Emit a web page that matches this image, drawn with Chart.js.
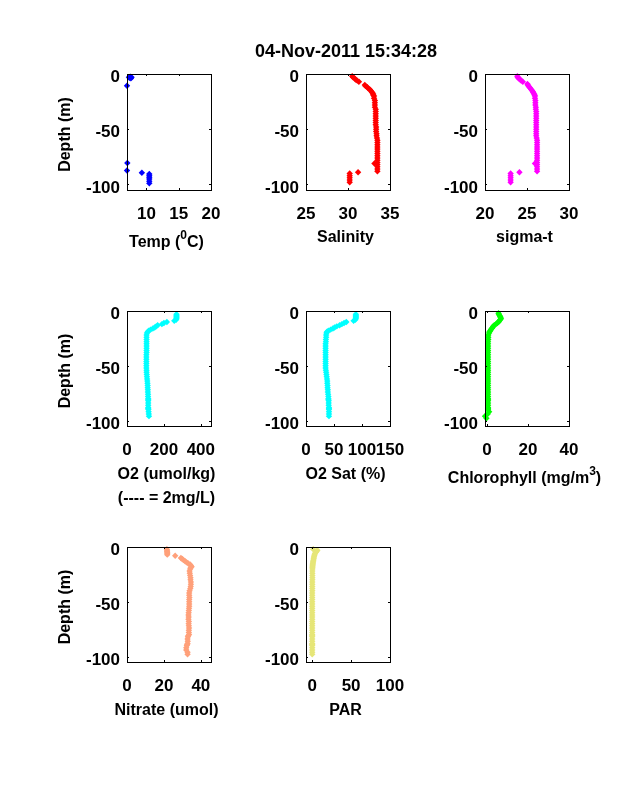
<!DOCTYPE html>
<html>
<head>
<meta charset="utf-8">
<title>CTD profile</title>
<script src="https://cdn.jsdelivr.net/npm/chart.js@4"></script>
<style>
  html, body { margin: 0; padding: 0; background: #fff; overflow: hidden; }
  canvas { position: absolute; left: 0; top: 0; }
</style>
</head>
<body>
<script>
const chartTitle = '04-Nov-2011 15:34:28';

// depth bins shared by the profiles (m)
const depth = [-2,-3,-4,-5,-6,-7,-8,-9,-10,-11,-12,-13,-14,-15,-16,-17,-18,-19,-20,
  -22,-24,-26,-28,-30,-32,-34,-36,-38,-40,-42,-44,-46,-48,-50,-52,-54,-56,-58,-60,
  -62,-64,-66,-68,-70,-72,-74,-76,-78,-80,-81,-82,-84,-86,-88,-89,-90,-92,-94,-96,-98];

// most temperatures fall left of the axis, only these show
const tempDepth = [-2.5,-3,-3.5,-4,-3,-10.6,-80.6,-87.3,-89.4,-90.5,-92,-93.5,-95,-97,-99];
const temp = [7.5,7.7,7.4,7.6,7.3,7.0,7.05,7.0,9.3,10.45,10.45,10.45,10.45,10.45,10.45];

const salinity = [30.5,30.6,30.8,30.9,31.1,31.3,null,null,32.0,32.1,32.3,32.4,32.6,32.7,32.8,32.9,33.0,33.0,33.1,
  33.1,33.2,33.2,33.2,33.2,33.3,33.3,33.3,33.3,33.3,33.3,33.3,33.3,33.35,33.35,33.35,33.4,33.4,33.45,33.5,
  33.5,33.5,33.5,33.5,33.5,33.5,33.5,33.5,33.5,33.5,33.15,33.5,33.5,33.5,33.5,31.2,30.2,30.2,30.2,30.2,30.2];

const sigmaT = [23.85,23.9,24.0,24.2,24.3,24.5,null,25.05,25.1,25.2,25.3,25.4,25.5,25.6,25.7,25.75,25.85,25.9,25.95,
  25.95,26,26,26,26.05,26.05,26.1,26.1,26.1,26.1,26.1,26.1,26.1,26.1,26.1,26.1,26.1,26.1,26.15,26.2,
  26.2,26.2,26.2,26.2,26.2,26.2,26.2,26.2,26.2,26.2,25.95,26.2,26.2,26.2,26.2,24.1,23.05,23.05,23.05,23.05,23.05];

const oxygen = [null,268,268,268,268,268,266,256,216,200,189,166,158,150,140,128,118,113,108,
  106,106,106,106,106,106,106,106,106,105,105,105,105,105,105,105,106,106,107,108,
  109,110,111,112,112,113,113,114,114,115,115,115,115,115,115,115,116,117,118,119];

const oxygenSat = [null,89,89,89,89,89,88,85,72,68,64,60,55,51,48,44,40,37.5,36.5,
  36,36,35.5,35.5,35,35,35,35,35,35,35,35,35,35,35,35,35.5,36,36.5,37,
  37.5,38,38,38.5,38.5,39,39,39.5,40,40,40,40.5,40.5,40.5,41,41,41,41,41,41];

const chlorophyll = [5.6,5.8,6.1,6.4,6.6,6.8,6.4,6,5.6,5,4.3,3.5,3,2.7,2.3,1.9,1.6,1.2,1,
  0.65,0.6,0.6,0.5,0.5,0.5,0.5,0.5,0.5,0.5,0.5,0.5,0.5,0.5,0.5,0.5,0.5,0.5,0.5,0.5,
  0.5,0.5,0.5,0.5,0.5,0.5,0.5,0.5,0.5,0.5,0.5,0.5,0.5,0.5,0.5,0.5,0.5,1,0.3,-1,-0.3];

const nitrate = [21.6,21.7,21.7,21.8,21.8,21.8,26.1,null,29.2,30,30.6,31.5,32.3,33.2,34.2,34.6,35,34.5,34.2,
  33.9,34,34.2,34.4,34.4,34.6,34.6,34.5,34.3,33.9,33.7,33.7,33.8,33.7,33.7,33.7,33.7,33.6,33.5,33.4,
  33.3,33.4,33.3,33.5,33.4,33.5,33.6,33.5,33.5,33.6,33.2,33,32.8,32.9,32.8,32.6,32.4,32.1,32.1,32.8,32.8];

const par = [1.3,6.6,5.5,4.5,3.5,3,2.7,2.3,2,1.8,1.5,1.2,1,0.8,0.6,0.5,0.4,0.3,0.3,
  0.2,0.2,0.2,0.2,0.2,0.1,0.1,0.1,0.1,0.1,0,0,0,0,0,0,0,0,0,0,
  0,0,0,0,0,0,0,0,0,0,0,0,0,0,0,0,0,0,0,0,0];

const depthTicks = [0, -50, -100];

// plot boxes, pixels on the page
const colLeft = [127, 306, 485];
const colRight = [211, 390, 569];
const rowTop = [74, 311, 547];
const rowBottom = [190, 426, 662];

const LABEL_FONT = 'bold 16px "Liberation Sans"';
const SUP_FONT = 'bold 12px "Liberation Sans"';

// text between ^ marks is raised
const panels = [
  { col: 0, row: 0, xs: temp, ys: tempDepth, color: '#0000ff', min: 7, max: 20, ticks: [10, 15, 20], label: ['Temp (^0^C)'], labelY: 242.5 },
  { col: 1, row: 0, xs: salinity, ys: depth, color: '#ff0000', min: 25, max: 35, ticks: [25, 30, 35], label: ['Salinity'], labelY: 238 },
  { col: 2, row: 0, xs: sigmaT, ys: depth, color: '#ff00ff', min: 20, max: 30, ticks: [20, 25, 30], label: ['sigma-t'], labelY: 238 },
  { col: 0, row: 1, xs: oxygen, ys: depth, color: '#00ffff', min: 0, max: 455, ticks: [0, 200, 400], label: ['O2 (umol/kg)', '(---- = 2mg/L)'], labelY: 475 },
  { col: 1, row: 1, xs: oxygenSat, ys: depth, color: '#00ffff', min: 0, max: 150, ticks: [0, 50, 100, 150], label: ['O2 Sat (%)'], labelY: 475 },
  { col: 2, row: 1, xs: chlorophyll, ys: depth, color: '#00ff00', min: -1, max: 40, ticks: [0, 20, 40], label: ['Chlorophyll (mg/m^3^)'], labelY: 479 },
  { col: 0, row: 2, xs: nitrate, ys: depth, color: '#ffa07a', min: 0, max: 45.5, ticks: [0, 20, 40], label: ['Nitrate (umol)'], labelY: 711 },
  { col: 1, row: 2, xs: par, ys: depth, color: '#e6e678', min: -8, max: 100, ticks: [0, 50, 100], label: ['PAR'], labelY: 711 }
];

// draw a line of text centred on x, with ^raised^ parts
function drawLabel(ctx, text, x, y) {
  const parts = text.split('^');
  let width = 0;
  parts.forEach((part, i) => {
    ctx.font = i % 2 ? SUP_FONT : LABEL_FONT;
    width += ctx.measureText(part).width;
  });
  let pos = x - width / 2;
  ctx.textAlign = 'left';
  ctx.textBaseline = 'middle';
  parts.forEach((part, i) => {
    ctx.font = i % 2 ? SUP_FONT : LABEL_FONT;
    ctx.fillText(part, pos, i % 2 ? y - 7 : y);
    pos += ctx.measureText(part).width;
  });
}

const panelFurniture = {
  id: 'panelFurniture',
  afterDatasetsDraw(chart, args, opts) {
    const ctx = chart.ctx;
    const { left, right, top, bottom } = chart.chartArea;
    const panel = opts.panel;
    ctx.save();
    ctx.strokeStyle = '#000';
    ctx.fillStyle = '#000';
    ctx.lineWidth = 1;
    ctx.strokeRect(left + 0.5, top + 0.5, right - left, bottom - top);

    // inward ticks on all four sides
    ctx.beginPath();
    chart.scales.x.ticks.forEach(tick => {
      const px = Math.round(chart.scales.x.getPixelForValue(tick.value)) + 0.5;
      ctx.moveTo(px, bottom); ctx.lineTo(px, bottom - 2);
      ctx.moveTo(px, top); ctx.lineTo(px, top + 2);
    });
    chart.scales.y.ticks.forEach(tick => {
      const py = Math.round(chart.scales.y.getPixelForValue(tick.value)) + 0.5;
      ctx.moveTo(left, py); ctx.lineTo(left + 2, py);
      ctx.moveTo(right, py); ctx.lineTo(right - 2, py);
    });
    ctx.stroke();

    const cx = (left + right) / 2 - 2.5;
    panel.label.forEach((line, i) => drawLabel(ctx, line, cx, panel.labelY + i * 24));

    if (panel.col === 0) {
      ctx.save();
      ctx.translate(66, (top + bottom) / 2 + 2.5);
      ctx.rotate(-Math.PI / 2);
      drawLabel(ctx, 'Depth (m)', 0, 0);
      ctx.restore();
    }
    if (panel.col === 1 && panel.row === 0) {
      ctx.font = 'bold 18px "Liberation Sans"';
      ctx.textAlign = 'center';
      ctx.textBaseline = 'middle';
      ctx.fillText(chartTitle, 346, 52);
    }
    ctx.restore();
  }
};

panels.forEach(panel => {
  const canvas = document.createElement('canvas');
  canvas.width = 638;
  canvas.height = 788;
  document.body.appendChild(canvas);

  const points = panel.xs
    .map((value, i) => ({ x: value, y: panel.ys[i] }))
    .filter(point => point.x !== null);

  new Chart(canvas.getContext('2d'), {
    type: 'scatter',
    plugins: [panelFurniture],
    data: {
      datasets: [{
        data: points,
        pointStyle: 'rectRot',
        pointRadius: 3.2,
        pointBackgroundColor: panel.color,
        pointBorderColor: panel.color,
        pointBorderWidth: 0,
        clip: false
      }]
    },
    options: {
      responsive: false,
      animation: false,
      devicePixelRatio: 1,
      layout: {
        autoPadding: false,
        padding: {
          left: colLeft[panel.col] - 100,
          right: 638 - colRight[panel.col],
          top: rowTop[panel.row],
          bottom: 788 - rowBottom[panel.row] - 60
        }
      },
      plugins: {
        legend: { display: false },
        tooltip: { enabled: false },
        panelFurniture: { panel: panel }
      },
      scales: {
        x: {
          type: 'linear',
          min: panel.min,
          max: panel.max,
          grid: { display: false, drawTicks: false },
          border: { display: false },
          afterFit: scale => { scale.height = 60; },
          afterBuildTicks: scale => { scale.ticks = panel.ticks.map(v => ({ value: v })); },
          ticks: {
            color: '#000',
            maxRotation: 0,
            autoSkip: false,
            padding: 14,
            font: { family: 'Liberation Sans', size: 17, weight: 'bold' },
            callback: v => String(v)
          }
        },
        y: {
          type: 'linear',
          min: -105,
          max: 0,
          grid: { display: false, drawTicks: false },
          border: { display: false },
          afterFit: scale => { scale.width = 100; },
          afterBuildTicks: scale => { scale.ticks = depthTicks.map(v => ({ value: v })); },
          ticks: {
            color: '#000',
            autoSkip: false,
            padding: 7,
            labelOffset: 3.5,
            font: { family: 'Liberation Sans', size: 17, weight: 'bold' },
            callback: v => String(v)
          }
        }
      }
    }
  });
});
</script>
</body>
</html>
